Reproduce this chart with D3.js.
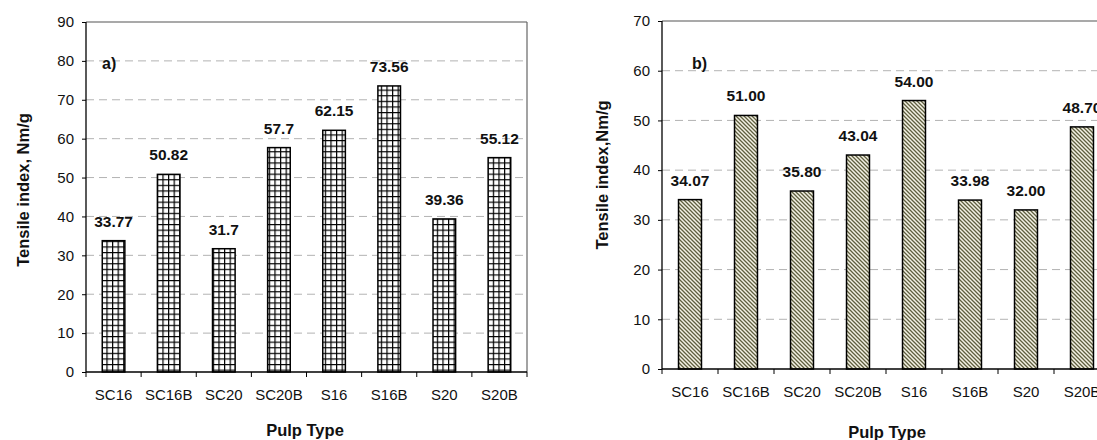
<!DOCTYPE html>
<html>
<head>
<meta charset="utf-8">
<script src="https://cdn.jsdelivr.net/npm/d3@7"></script>
<style>
  html, body { margin: 0; padding: 0; background: #fff; }
  svg { display: block; font-family: "Liberation Sans", Arial, sans-serif; }
</style>
</head>
<body>
<svg id="chart" width="1097" height="440"></svg>
<script>
// ---- data ----
const categories = ["SC16", "SC16B", "SC20", "SC20B", "S16", "S16B", "S20", "S20B"];
const valuesA = [33.77, 50.82, 31.7, 57.7, 62.15, 73.56, 39.36, 55.12];
const valuesB = [34.07, 51.00, 35.80, 43.04, 54.00, 33.98, 32.00, 48.70];
const ticksA = [0, 10, 20, 30, 40, 50, 60, 70, 80, 90];
const ticksB = [0, 10, 20, 30, 40, 50, 60, 70];
const yTitleA = "Tensile index, Nm/g";
const yTitleB = "Tensile index,Nm/g";
const xTitle = "Pulp Type";

const svg = d3.select("#chart");
const defs = svg.append("defs");

// grid pattern (chart a)
const pg = defs.append("pattern").attr("id", "gridPat")
  .attr("patternUnits", "userSpaceOnUse").attr("width", 5.6).attr("height", 5.6);
pg.append("rect").attr("width", 5.6).attr("height", 5.6).attr("fill", "#fff");
pg.append("path").attr("d", "M0 0.6H5.6M0.6 0V5.6").attr("stroke", "#000").attr("stroke-width", 1.2);

// diagonal pattern (chart b)
const pd = defs.append("pattern").attr("id", "diagPat")
  .attr("patternUnits", "userSpaceOnUse").attr("width", 4).attr("height", 4);
pd.append("rect").attr("width", 4).attr("height", 4).attr("fill", "#f3f1e4");
pd.append("path").attr("d", "M-1 -1L5 5M-1 3L1 5M3 -1L5 1")
  .attr("stroke", "#5f5f3f").attr("stroke-width", 1.3);

function drawChart(cfg) {
  const g = svg.append("g");
  const x = d3.scaleBand().domain(cfg.cats).range([cfg.left, cfg.right]).padding(0);
  const y = d3.scaleLinear().domain([0, cfg.max]).range([cfg.bottom, cfg.top]);
  const barW = x.bandwidth() * 0.41;

  // gridlines
  g.append("g").selectAll("line").data(cfg.ticks.filter(t => t > 0 && t < cfg.max))
    .join("line")
    .attr("x1", cfg.left).attr("x2", cfg.right)
    .attr("y1", d => y(d)).attr("y2", d => y(d))
    .attr("stroke", "#b3b3b3").attr("stroke-width", 1).attr("stroke-dasharray", "8,5");

  // frame top & right
  g.append("line").attr("x1", cfg.left).attr("x2", cfg.right)
    .attr("y1", y(cfg.max)).attr("y2", y(cfg.max)).attr("stroke", "#555").attr("stroke-width", 1.2);
  g.append("line").attr("x1", cfg.right).attr("x2", cfg.right)
    .attr("y1", y(cfg.max)).attr("y2", cfg.bottom).attr("stroke", "#666").attr("stroke-width", 1.2);

  // bars
  g.append("g").selectAll("rect").data(cfg.values).join("rect")
    .attr("x", (d, i) => x(cfg.cats[i]) + (x.bandwidth() - barW) / 2)
    .attr("y", d => y(d))
    .attr("width", barW)
    .attr("height", d => cfg.bottom - y(d))
    .attr("fill", cfg.fill)
    .attr("stroke", "#000").attr("stroke-width", 1.5);

  // value labels
  g.append("g").selectAll("text").data(cfg.values).join("text")
    .attr("x", (d, i) => x(cfg.cats[i]) + x.bandwidth() / 2)
    .attr("y", d => y(d) - 14)
    .attr("text-anchor", "middle")
    .attr("font-size", "15.5px").attr("font-weight", "bold").attr("fill", "#111")
    .text(cfg.fmt);

  // y axis
  const ya = g.append("g").attr("transform", `translate(${cfg.left},0)`)
    .call(d3.axisLeft(y).tickValues(cfg.ticks).tickSize(4).tickPadding(8).tickFormat(d3.format("d")));
  ya.select(".domain").attr("stroke", "#000").attr("stroke-width", 1.3).attr("d", `M0,${cfg.top}V${cfg.bottom}`);
  ya.selectAll(".tick line").attr("stroke", "#000");
  ya.selectAll(".tick text").attr("font-size", "15px").attr("fill", "#111")
    .attr("font-family", "'Liberation Sans', Arial, sans-serif");

  // x axis (ticks at band boundaries)
  const xa = g.append("g").attr("transform", `translate(0,${cfg.bottom})`);
  xa.append("line").attr("x1", cfg.left).attr("x2", cfg.right).attr("stroke", "#000").attr("stroke-width", 1.3);
  const bounds = cfg.cats.map(c => x(c)).concat([cfg.right]);
  xa.selectAll("line.tk").data(bounds).join("line").attr("class", "tk")
    .attr("x1", d => d).attr("x2", d => d).attr("y1", 0).attr("y2", 5)
    .attr("stroke", "#000").attr("stroke-width", 1);
  xa.selectAll("text").data(cfg.cats).join("text")
    .attr("x", d => x(d) + x.bandwidth() / 2).attr("y", 28)
    .attr("text-anchor", "middle").attr("font-size", "15px").attr("fill", "#111")
    .text(d => d);

  // titles
  g.append("text").attr("x", cfg.xTitleX).attr("y", cfg.xTitleY)
    .attr("text-anchor", "middle").attr("font-size", "16.5px").attr("font-weight", "bold").attr("fill", "#111")
    .text(xTitle);
  g.append("text").attr("transform", `translate(${cfg.yTitleX},${cfg.yTitleY}) rotate(-90)`)
    .attr("text-anchor", "middle").attr("dy", "0.35em")
    .attr("font-size", "16.5px").attr("font-weight", "bold").attr("fill", "#111")
    .text(cfg.yTitle);

  // panel label
  g.append("text").attr("x", cfg.panelX).attr("y", cfg.panelY)
    .attr("font-size", "16px").attr("font-weight", "bold").attr("fill", "#111")
    .text(cfg.panel);
}

drawChart({
  cats: categories, values: valuesA, ticks: ticksA, max: 90,
  left: 86, right: 527, top: 22, bottom: 372,
  fill: "url(#gridPat)", fmt: d => String(d),
  xTitleX: 305, xTitleY: 436, yTitleX: 23, yTitleY: 190, yTitle: yTitleA,
  panel: "a)", panelX: 102, panelY: 69
});

drawChart({
  cats: categories, values: valuesB, ticks: ticksB, max: 70,
  left: 662, right: 1110, top: 21, bottom: 369,
  fill: "url(#diagPat)", fmt: d => d3.format(".2f")(d),
  xTitleX: 887, xTitleY: 438, yTitleX: 602, yTitleY: 175, yTitle: yTitleB,
  panel: "b)", panelX: 692, panelY: 69
});
</script>
</body>
</html>
